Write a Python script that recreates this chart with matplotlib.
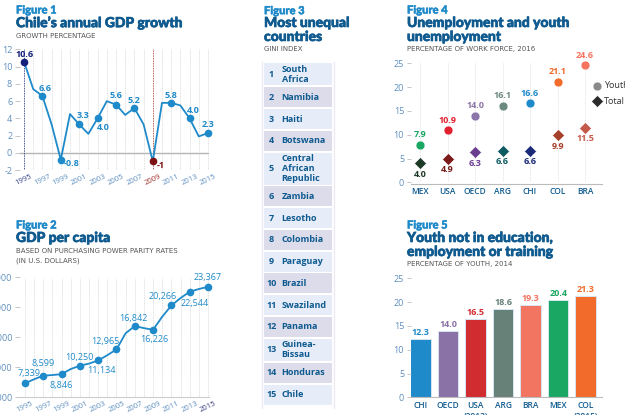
import matplotlib
matplotlib.use('Agg')
import matplotlib.pyplot as plt
import matplotlib.patheffects as pe
from matplotlib.patches import Rectangle

W, H = 625, 415

# figure 1
growth_years = list(range(1995, 2016))
growth_values = [10.6, 7.4, 6.6, 3.3, -0.8, 4.5, 3.3, 2.2, 4.0, 6.0, 5.6, 4.4, 5.2, 3.3, -1.0, 5.8, 5.8, 5.5, 4.0, 1.9, 2.3]
growth_labels = ['10.6', '6.6', '-0.8', '3.3', '4.0', '5.6', '5.2', '-1', '5.8', '4.0', '2.3']
growth_offsets = [(1, 7), (3, 7), (11, -4), (4, 9), (6, -9), (0, 9), (0, 8), (8, -4), (0, 7), (4, 8), (0, 8)]

# figure 2
gdp_years = list(range(1995, 2016))
gdp_values = [7339, 8000, 8599, 8700, 8846, 9700, 10250, 10600, 11134, 12000, 12965, 15650, 16842, 16500, 16226, 18400, 20266, 21500, 22544, 23000, 23367]
gdp_offsets = [(4, 10), (0, 12), (0, -11), (-1, 8), (3, -10), (-11, 8), (-1, 8), (1, -10), (-9, 9), (5, -12), (0, 9)]

# figure 3
gini_countries = ['South\nAfrica', 'Namibia', 'Haiti', 'Botswana', 'Central\nAfrican\nRepublic', 'Zambia', 'Lesotho', 'Colombia',
                  'Paraguay', 'Brazil', 'Swaziland', 'Panama', 'Guinea-\nBissau', 'Honduras', 'Chile']

# figure 4
unemp_countries = ['MEX', 'USA', 'OECD', 'ARG', 'CHI', 'COL', 'BRA']
youth_values = [7.9, 10.9, 14.0, 16.1, 16.6, 21.1, 24.6]
total_values = [4.0, 4.9, 6.3, 6.6, 6.6, 9.9, 11.5]
youth_colors = ['#1aa663', '#e0202e', '#8b74a8', '#6c8a80', '#1f8ac9', '#f26b2b', '#f5735f']
total_colors = ['#1c3a25', '#7a1a1a', '#6a3d8f', '#0e5a62', '#1a2a78', '#a5402a', '#c45a4a']

# figure 5
neet_countries = ['CHI', 'OECD', 'USA\n(2012)', 'ARG', 'BRA', 'MEX', 'COL\n(2015)']
neet_values = [12.3, 14.0, 16.5, 18.6, 19.3, 20.4, 21.3]
neet_colors = ['#1f8ac9', '#8a72a6', '#d12c30', '#678078', '#f27562', '#1aa663', '#f26b2b']

BLUE = '#1f8ac9'
DARK = '#0f5a8f'
TICK = '#5f8fbf'
NUM_FONT = 'Open Sans'


def px_axes(fig, left, top, right, bottom):
    ax = fig.add_axes([left / W, 1 - bottom / H, (right - left) / W, (bottom - top) / H])
    ax.patch.set_alpha(0)
    for s in ['top', 'right']:
        ax.spines[s].set_visible(False)
    return ax


def header(bg, x, fig_y, label, title_lines, title_ys, subs, sub_ys):
    t = bg.text(x, fig_y, label, color=BLUE, fontsize=8, family='Lato', weight='black', va='center')
    t.set_path_effects([pe.withStroke(linewidth=0.3, foreground=BLUE)])
    for line, y in zip(title_lines, title_ys):
        t = bg.text(x, y, line, color=DARK, fontsize=10, family='Lato', weight='black', va='center')
        t.set_path_effects([pe.withStroke(linewidth=0.45, foreground=DARK)])
    for line, y in zip(subs, sub_ys):
        bg.text(x, y, line, color='#555555', fontsize=5, family='DejaVu Sans', va='center')


def line_panel(fig, box, years, values, ylim, yticks, yticklabels):
    ax = px_axes(fig, *box)
    ax.plot(years, values, color=BLUE, lw=1.3, zorder=3, clip_on=False)
    ax.set_ylim(*ylim)
    ax.set_yticks(yticks)
    ax.set_yticklabels(yticklabels, color=TICK, fontsize=6.5, family=NUM_FONT)
    ax.set_xticks(years[::2])
    ax.set_xticklabels([str(y) for y in years[::2]], rotation=25, color=TICK, fontsize=5.5, family=NUM_FONT)
    ax.tick_params(axis='y', length=3.6, width=0.6, color='#bbbbbb', pad=2)
    ax.tick_params(axis='x', length=0, pad=2)
    ax.spines['left'].set_visible(False)
    ax.spines['bottom'].set_visible(False)
    for y in years:
        ax.axvline(y, color='#d5d5d5', lw=0.6, ls=(0, (1, 1)), zorder=1)
    return ax


def main():
    fig = plt.figure(figsize=(W / 100, H / 100), dpi=100)
    bg = fig.add_axes([0, 0, 1, 1])
    bg.set_xlim(0, W)
    bg.set_ylim(H, 0)
    bg.axis('off')

    # figure 1
    header(bg, 16, 10, 'Figure 1', ['Chile\u2019s annual GDP growth'], [23], ['GROWTH PERCENTAGE'], [36])
    ax = line_panel(fig, (20, 49.5, 209, 170), growth_years, growth_values, (-2, 12), list(range(-2, 13, 2)),
                    ['-2', '0', '2', '4', '6', '8', '10', '12'])
    ax.set_xlim(1994.565, 2015.11)
    ax.axhline(0, color='#b5b5b5', lw=1, zorder=2)
    ax.axvline(1995, color='#1a2a78', lw=0.6, ls=(0, (1, 1)), zorder=2)
    ax.axvline(2009, color='#b03a2a', lw=0.6, ls=(0, (1, 1)), zorder=2)
    for t in ax.get_xticklabels():
        if t.get_text() == '1995':
            t.set_color('#33408f')
        if t.get_text() == '2009':
            t.set_color('#a0322a')
    for i, lab in enumerate(growth_labels):
        yr = growth_years[i * 2]
        val = growth_values[i * 2]
        c = BLUE
        if yr == 1995:
            c = '#14207a'
        if yr == 2009:
            c = '#7d1212'
        ax.plot(yr, val, 'o', color=c, ms=4.5, zorder=4, clip_on=False)
        ax.annotate(lab, (yr, val), xytext=growth_offsets[i], textcoords='offset pixels', ha='center', va='center',
                    color=c, fontsize=6.5, family=NUM_FONT, weight='bold', zorder=5)

    # figure 2
    header(bg, 16, 225, 'Figure 2', ['GDP per capita'], [238], ['BASED ON PURCHASING POWER PARITY RATES', '(IN U.S. DOLLARS)'], [251, 261])
    ax = line_panel(fig, (20, 277, 209, 397.3), gdp_years, gdp_values, (5000, 25000), list(range(5000, 25001, 5000)),
                    ['5,000', '10,000', '15,000', '20,000', '25,000'])
    ax.set_xlim(1994.457, 2015.11)
    ax.spines['bottom'].set_visible(True)
    ax.spines['bottom'].set_color('#cccccc')
    for t in ax.get_xticklabels():
        if t.get_text() == '2015':
            t.set_color('#3a3a80')
    for i in range(11):
        yr = gdp_years[i * 2]
        val = gdp_values[i * 2]
        ax.plot(yr, val, 'o', color=BLUE, ms=4.5, zorder=4, clip_on=False)
        ax.annotate(f'{val:,}', (yr, val), xytext=gdp_offsets[i], textcoords='offset pixels', ha='center', va='center',
                    color=BLUE, fontsize=6.5, family=NUM_FONT, zorder=5)

    # figure 3
    header(bg, 264, 10.7, 'Figure 3', ['Most unequal', 'countries'], [23, 37], ['GINI INDEX'], [49])
    y = 63
    for i, name in enumerate(gini_countries):
        n = name.count('\n') + 1
        h = {1: 20, 2: 22.5, 3: 32}[n]
        bg.add_patch(Rectangle((264, y), 68, h, color='#dcdcea' if i % 2 else '#e6edf8', lw=0))
        bg.text(271 if i < 9 else 272, y + h / 2, str(i + 1), color=DARK, fontsize=6.5, family=NUM_FONT, weight='bold', ha='center', va='center')
        bg.text(281.5, y + h / 2, name, color=DARK, fontsize=6.5, family=NUM_FONT, weight='bold', va='center', linespacing=1.1)
        y += h + 1.75
    bg.plot([262, 262], [62, 408], color='#efe9f2', lw=1)
    bg.plot([334, 334], [62, 408], color='#efe9f2', lw=1)

    # figure 4
    header(bg, 407, 10, 'Figure 4', ['Unemployment and youth', 'unemployment'], [23, 37], ['PERCENTAGE OF WORK FORCE, 2016'], [49])
    ax = px_axes(fig, 411, 63.3, 602, 182.3)
    # spine position first, it resets the tick labels
    ax.spines['bottom'].set_position(('outward', 1.2))
    ax.spines['bottom'].set_color('#bbbbbb')
    ax.spines['left'].set_visible(False)
    xs = list(range(len(unemp_countries)))
    ax.set_xlim(-9 / 27.5, 6 + 17 / 27.5)
    ax.set_ylim(0, 25)
    for i in xs:
        ax.axvline(i, color='#dddddd', lw=0.6, ls=(0, (1, 1)), zorder=1)
        ax.plot(i, youth_values[i], 'o', color=youth_colors[i], mec='white', mew=0.4, ms=6.4, zorder=3, clip_on=False)
        ax.plot(i, total_values[i], 'D', color=total_colors[i], mec='white', mew=0.4, ms=6, zorder=3)
        ax.annotate(f'{youth_values[i]:.1f}', (i, youth_values[i]), xytext=(0, 10), textcoords='offset pixels', ha='center', va='center',
                    color=youth_colors[i], fontsize=6.5, family=NUM_FONT, weight='bold', annotation_clip=False)
        ax.annotate(f'{total_values[i]:.1f}', (i, total_values[i]), xytext=(0, -11), textcoords='offset pixels', ha='center', va='center',
                    color=total_colors[i], fontsize=6.5, family=NUM_FONT, weight='bold')
    ax.set_xticks(xs)
    ax.set_xticklabels(unemp_countries, color=DARK, fontsize=6, family=NUM_FONT, weight='semibold')
    ax.set_yticks(range(0, 26, 5))
    ax.set_yticklabels(range(0, 26, 5), color=TICK, fontsize=6.5, family=NUM_FONT)
    ax.tick_params(axis='y', length=3, width=0.6, color='#bbbbbb', pad=2)
    ax.tick_params(axis='x', length=0, pad=2)
    # legend keys
    bg.plot(597, 86, 'o', color='#8a8a8a', mec='white', mew=0.4, ms=6.4)
    bg.plot(597, 101, 'D', color='#2a2a2a', mec='white', mew=0.4, ms=6)
    bg.text(604, 86, 'Youth', color='#333333', fontsize=6.5, family=NUM_FONT, va='center')
    bg.text(604, 101, 'Total', color='#333333', fontsize=6.5, family=NUM_FONT, va='center')

    # figure 5
    header(bg, 407, 225, 'Figure 5', ['Youth not in education,', 'employment or training'], [238, 252], ['PERCENTAGE OF YOUTH, 2014'], [264])
    ax = px_axes(fig, 411, 278.3, 602, 397.3)
    xs = list(range(len(neet_countries)))
    ax.bar(xs, neet_values, width=20.5 / 27.5, color=neet_colors, edgecolor='#d6e6f2', lw=0.7)
    ax.set_xlim(-9.7 / 27.5, 6 + 16.3 / 27.5)
    ax.set_ylim(0, 25)
    for i in xs:
        ax.annotate(f'{neet_values[i]:.1f}', (i, neet_values[i]), xytext=(0, 6.5), textcoords='offset pixels', ha='center', va='center',
                    color=neet_colors[i], fontsize=6.5, family=NUM_FONT, weight='bold')
    ax.set_xticks(xs)
    ax.set_xticklabels(neet_countries, color=DARK, fontsize=6, family=NUM_FONT, weight='semibold', linespacing=1.15)
    ax.set_yticks(range(0, 26, 5))
    ax.set_yticklabels(range(0, 26, 5), color=TICK, fontsize=6.5, family=NUM_FONT)
    ax.tick_params(axis='y', length=3, width=0.6, color='#bbbbbb', pad=2)
    ax.tick_params(axis='x', length=0, pad=3)
    ax.spines['left'].set_visible(False)
    ax.spines['bottom'].set_color('#bbbbbb')

    fig.savefig('out.png', dpi=100)


if __name__ == '__main__':
    main()
